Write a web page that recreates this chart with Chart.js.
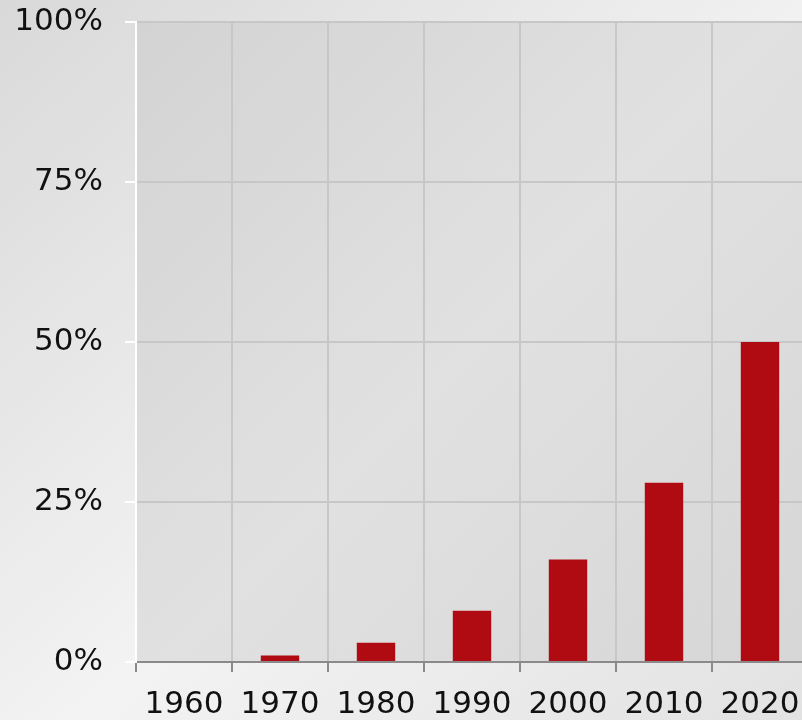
<!DOCTYPE html>
<html>
<head>
<meta charset="utf-8">
<script src="https://cdn.jsdelivr.net/npm/chart.js@4/dist/chart.umd.min.js"></script>
<style>
  html, body { margin: 0; padding: 0; width: 802px; height: 720px; overflow: hidden; }
  body { background: linear-gradient(to bottom right, #d9d9d9 0%, #f3f3f3 55%, #e2e2e2 100%); }
  #wrap { position: absolute; left: 0; top: 0; width: 808px; height: 720px; }
</style>
</head>
<body>
<div id="wrap"><canvas id="c" width="808" height="720"></canvas></div>
<script>
const years = ['1960', '1970', '1980', '1990', '2000', '2010', '2020'];
const shares = [0, 1, 3, 8, 16, 28, 50];
const yTickValues = [0, 25, 50, 75, 100];

const plotBg = {
  id: 'plotBg',
  beforeDraw(chart) {
    const { ctx, chartArea: a } = chart;
    const g = ctx.createLinearGradient(a.left, a.top, a.right, a.bottom);
    g.addColorStop(0, '#d3d3d3');
    g.addColorStop(0.5, '#e1e1e1');
    g.addColorStop(1, '#d6d6d6');
    ctx.save();
    ctx.fillStyle = g;
    ctx.fillRect(a.left, a.top, a.right - a.left, a.bottom - a.top);
    ctx.restore();
  }
};

const font = { family: '"DejaVu Sans", Verdana, sans-serif', size: 31 };

new Chart(document.getElementById('c'), {
  type: 'bar',
  data: {
    labels: years,
    datasets: [{
      data: shares,
      backgroundColor: '#b00a12',
      borderWidth: 0,
      barPercentage: 0.4,
      categoryPercentage: 1.0
    }]
  },
  options: {
    responsive: false,
    devicePixelRatio: 1,
    animation: false,
    layout: { padding: { top: 22, right: 0, bottom: 0, left: 0 } },
    plugins: { legend: { display: false }, tooltip: { enabled: false } },
    scales: {
      x: {
        grid: { color: '#c7c7c7', lineWidth: 2, offset: true, tickColor: '#8a8a8a', tickLength: 10, tickWidth: 2 },
        border: { color: '#8a8a8a', width: 2 },
        ticks: { color: '#111', font: font, padding: 14, maxRotation: 0, autoSkip: false },
        afterFit(s) { s.height = 58; s.paddingLeft = 0; s.paddingRight = 0; }
      },
      y: {
        min: 0, max: 100,
        afterBuildTicks(s) { s.ticks = yTickValues.map(v => ({ value: v })); },
        grid: { color: '#c7c7c7', lineWidth: 2, tickColor: '#ffffff', tickLength: 11, tickWidth: 2 },
        border: { color: '#ffffff', width: 2 },
        ticks: { color: '#111', font: font, padding: 22, callback: v => v + '%' },
        afterFit(s) { s.width = 136; s.paddingTop = 0; s.paddingBottom = 0; }
      }
    }
  },
  plugins: [plotBg]
});
</script>
</body>
</html>
